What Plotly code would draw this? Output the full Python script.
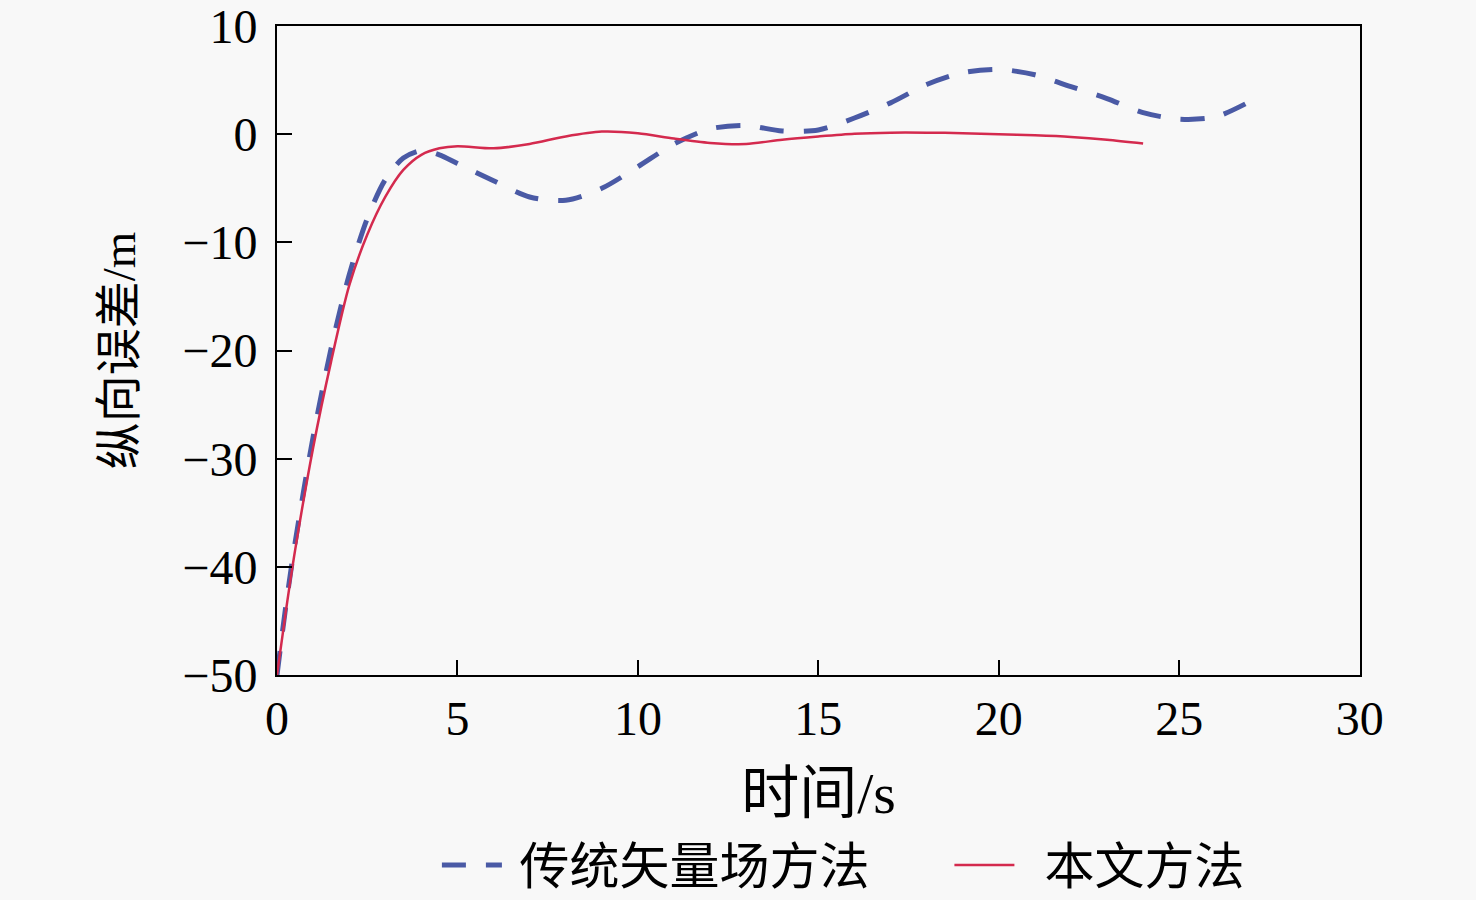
import plotly.graph_objects as go

# --- datos ---
t_trad = [0, 0.25, 0.5, 1, 1.5, 2, 2.5, 3, 3.5, 4, 4.5, 5, 6, 7, 8, 9, 10, 11, 12, 13,
          14, 15, 16, 17, 18, 19, 20, 21, 22, 23, 24, 25, 26, 27]
e_trad = [-50, -43.5, -37.8, -28, -19.8, -13, -7.8, -4.2, -2.2, -1.5, -1.9, -2.7, -4.3,
          -5.8, -6.1, -5.0, -3.0, -0.9, 0.5, 0.8, 0.3, 0.4, 1.5, 2.9, 4.6, 5.7, 6.0, 5.5,
          4.4, 3.3, 2.0, 1.4, 1.6, 3.1]

t_ours = [0, 0.25, 0.5, 1, 1.5, 2, 2.5, 3, 3.5, 4, 4.5, 5, 6, 7, 8, 9, 10, 11, 12, 13,
          14, 15, 16, 17, 18, 19, 20, 21, 22, 23, 24]
e_ours = [-50, -44, -38.5, -29, -21, -14, -9.3, -5.8, -3.3, -1.9, -1.3, -1.1, -1.3, -0.9,
          -0.2, 0.25, 0.1, -0.4, -0.8, -0.9, -0.5, -0.2, 0.05, 0.15, 0.15, 0.1, 0.0, -0.1,
          -0.25, -0.5, -0.85]

x_ticks = [0, 5, 10, 15, 20, 25, 30]
y_ticks = [-50, -40, -30, -20, -10, 0, 10]
names = ['传统矢量场方法', '本文方法']
bg = '#f8f8f8'
font_fam = 'Liberation Serif, Noto Sans CJK SC'

fig = go.Figure()
fig.add_trace(go.Scatter(
    x=t_trad, y=e_trad, mode='lines', name=' ' + names[0] + '      ',
    line=dict(color='#4a5aa5', width=5, dash='24px,20px', shape='spline', smoothing=0.8)
))
fig.add_trace(go.Scatter(
    x=t_ours, y=e_ours, mode='lines', name='  ' + names[1],
    line=dict(color='#d42a4e', width=2.5, shape='spline', smoothing=0.8)
))

fig.update_layout(
    width=1476, height=900,
    margin=dict(l=277, r=116, t=26, b=225, autoexpand=False),
    paper_bgcolor=bg, plot_bgcolor=bg,
    font=dict(family=font_fam, size=48, color='black'),
    legend=dict(orientation='h', x=0.523, xanchor='center', yref='container',
                y=0.039, yanchor='middle', font=dict(size=50),
                bgcolor='rgba(0,0,0,0)', itemwidth=60),
)

axis_common = dict(showline=True, linecolor='black', linewidth=2, mirror=True,
                   ticks='inside', ticklen=15, tickwidth=2, tickcolor='black',
                   showgrid=False, zeroline=False, ticklabeloverflow='allow',
                   automargin=False)
fig.update_xaxes(range=[0, 30.01], tickvals=x_ticks, title_text='时间/s', title_standoff=35,
                 **axis_common)
fig.update_yaxes(range=[-50, 10.01], tickvals=y_ticks, title_text='纵向误差/m',
                 title_font=dict(size=47), title_standoff=32, ticklabelstandoff=8,
                 **axis_common)

fig.write_html('out.html', config={'displayModeBar': False},
               post_script="document.body.style.margin='0';"
               "document.body.style.background='#f8f8f8';")
